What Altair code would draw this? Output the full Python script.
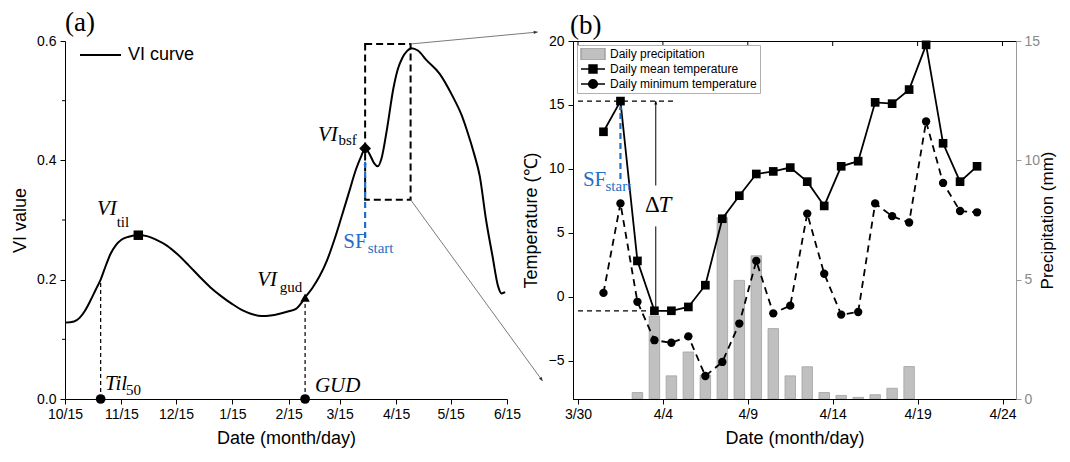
import json
import math
import altair as alt
import pandas as pd

# =====================================================================
# Panel (a): VI curve, x = days after 10/15
# =====================================================================
vi_day = [0, 5, 8, 11, 14, 17, 19.6, 22, 25, 28, 31, 35, 40, 45, 50, 56, 62, 68,
          74, 80, 86, 92, 98, 103, 108, 113, 118, 123, 127, 130, 132, 136, 140, 144,
          148, 152, 156, 160, 163, 165, 167.5, 170, 172, 174, 177, 180.5, 183, 185.5,
          188, 190.5, 194, 199, 206, 213, 218, 221, 225, 228, 231.5, 235, 238, 240, 242]
vi_value = [0.128, 0.130, 0.136, 0.148, 0.165, 0.184, 0.200, 0.220, 0.243, 0.258,
            0.267, 0.272, 0.275, 0.273, 0.267, 0.257, 0.242, 0.224, 0.205, 0.187,
            0.172, 0.159, 0.148, 0.142, 0.139, 0.140, 0.143, 0.147, 0.151, 0.161,
            0.170, 0.186, 0.206, 0.232, 0.266, 0.305, 0.345, 0.385, 0.408, 0.420,
            0.410, 0.395, 0.390, 0.403, 0.452, 0.520, 0.553, 0.572, 0.583, 0.588,
            0.584, 0.567, 0.545, 0.508, 0.476, 0.450, 0.410, 0.374, 0.300, 0.240,
            0.190, 0.177, 0.179]

a_tick_days = [0, 31, 61, 92, 123, 151, 182, 212, 243]
a_tick_labels = ["10/15", "11/15", "12/15", "1/15", "2/15", "3/15", "4/15", "5/15", "6/15"]
a_minor_y = [0.1, 0.3, 0.5]

til_day, til_value = [40.3], [0.2745]      # VI_til (square)
gud_day, gud_value = [132], [0.170]        # VI_gud (triangle)
bsf_day, bsf_value = [165], [0.420]        # VI_bsf (diamond)
date_dot_day = [19.6, 132]                 # Til50, GUD
date_dot_top = [0.200, 0.170]

sfa_day, sfa_from, sfa_to = [165], [0.270], [0.399]
box_day0, box_day1, box_v0, box_v1 = [165], [190], [0.334], [0.595]
conn_day0 = [190, 190]
conn_v0 = [0.595, 0.334]
conn_day1 = [259.9, 262.6]
conn_v1 = [0.615, 0.030]

a_lab_text = ["VI", "VI", "VI", "Til", "GUD"]
a_lab_day = [17.6, 105.7, 139.1, 22.0, 137.4]
a_lab_value = [0.308, 0.189, 0.433, 0.015, 0.011]
a_sub_text = ["til", "gud", "bsf", "50"]
a_sub_day = [28.4, 118.1, 150.3, 33.5]
a_sub_value = [0.2875, 0.180, 0.425, 0.006]
a_sf_text, a_sf_day, a_sf_value = ["SF"], [153.0], [0.2537]
a_sfsub_text, a_sfsub_day, a_sfsub_value = ["start"], [166.4], [0.2454]

# =====================================================================
# Panel (b): daily weather
# =====================================================================
temp_dates = ["3/31", "4/1", "4/2", "4/3", "4/4", "4/5", "4/6", "4/7", "4/8", "4/9",
              "4/10", "4/11", "4/12", "4/13", "4/14", "4/15", "4/16", "4/17", "4/18",
              "4/19", "4/20", "4/21", "4/22"]
mean_temp = [12.9, 15.3, 2.8, -1.1, -1.1, -0.8, 0.9, 6.1, 7.9, 9.6, 9.8, 10.1, 9.0,
             7.1, 10.2, 10.6, 15.2, 15.1, 16.2, 19.7, 12.0, 9.0, 10.2]
min_temp = [0.3, 7.3, -0.4, -3.4, -3.6, -3.1, -6.2, -5.1, -2.1, 2.8, -1.3, -0.7, 6.5,
            1.8, -1.4, -1.2, 7.3, 6.3, 5.8, 13.7, 8.9, 6.7, 6.6]
precip_dates = ["4/2", "4/3", "4/4", "4/5", "4/6", "4/7", "4/8", "4/9", "4/10", "4/11",
                "4/12", "4/13", "4/14", "4/15", "4/16", "4/17", "4/18"]
precip_mm = [0.27, 3.47, 0.97, 1.97, 1.0, 7.6, 4.97, 6.0, 2.95, 0.97, 1.35, 0.27, 0.15,
             0.07, 0.18, 0.45, 1.36]

b_tick_days = [0, 5, 10, 15, 20, 25]
b_tick_labels = ["3/30", "4/4", "4/9", "4/14", "4/19", "4/24"]

series_names = ["Daily precipitation", "Daily mean temperature", "Daily minimum temperature"]

hl_value = [15.3, -1.1]
hl_day0 = [0, 0]
hl_day1 = [5.8, 4.4]
dT_day = [4.58]
dT_seg_top = [15.3, 5.5]
dT_seg_bot = [8.7, -1.1]
sfb_day, sfb_from, sfb_to = [2.5], [9.2], [14.9]
b_sf_day, b_sf_value = [0.29], [8.68]
b_sfsub_day, b_sfsub_value = [1.62], [8.29]
b_delta_day, b_delta_value = [3.94], [6.59]
b_t_day, b_t_value = [4.74], [6.59]

# ---------------------------------------------------------------------
SERIF = "Liberation Serif"
SANS = "Liberation Sans"
BLUE = "#1f6fc5"
GRAY_LINE = "#7a7a7a"

W_A, W_B, H = 442, 443, 358
A_DOM = [0, 243]
A_YDOM = [0, 0.6]


def md_to_day(md):
    m, d = map(int, md.split("/"))
    return (pd.Timestamp(2019, m, d) - pd.Timestamp(2019, 3, 30)).days + 0.5


def lab_expr(vals, labs):
    return f"{json.dumps(labs)}[indexof({json.dumps(vals)}, datum.value)]"


xa = alt.Scale(domain=A_DOM, nice=False, zero=False)
ya = alt.Scale(domain=A_YDOM, nice=False, zero=False)

axis_xa = alt.Axis(values=a_tick_days, labelExpr=lab_expr(a_tick_days, a_tick_labels),
                   title="Date (month/day)", labelPadding=3, titlePadding=8, zindex=1,
                   labelFlush=False)
axis_ya = alt.Axis(values=[0, 0.2, 0.4, 0.6], format=".1f", title="VI value",
                   labelPadding=4, titlePadding=7, zindex=1, labelFlush=False)


def XA(f):
    return alt.X(f, type="quantitative", scale=xa, axis=axis_xa)


def YA(f):
    return alt.Y(f, type="quantitative", scale=ya, axis=axis_ya)


curve_df = pd.DataFrame({"day": vi_day, "vi": vi_value, "name": ["VI curve"] * len(vi_day)})
curve = alt.Chart(curve_df).mark_line(interpolate="monotone", strokeWidth=2).encode(
    x=XA("day"),
    y=YA("vi"),
    color=alt.Color("name:N", scale=alt.Scale(range=["black"]),
                    legend=alt.Legend(title=None, orient="none", legendX=14, legendY=4,
                                      symbolType="stroke", symbolSize=1681,
                                      symbolStrokeWidth=2, clipHeight=20, padding=0,
                                      labelFont=SANS, labelFontSize=18, labelOffset=6,
                                      labelColor="black")),
)

minor_a = alt.Chart(pd.DataFrame({"v": a_minor_y})).mark_rule(color="black", strokeWidth=1).encode(
    y=YA("v"), x=alt.value(0), x2=alt.value(-3))

til_pt = alt.Chart(pd.DataFrame({"d": til_day, "v": til_value})).mark_point(
    shape="square", filled=True, size=90, color="black", opacity=1).encode(x=XA("d"), y=YA("v"))
gud_pt = alt.Chart(pd.DataFrame({"d": gud_day, "v": gud_value})).mark_point(
    shape="triangle-up", filled=True, size=90, color="black", opacity=1).encode(x=XA("d"), y=YA("v"))
bsf_pt = alt.Chart(pd.DataFrame({"d": bsf_day, "v": bsf_value})).mark_point(
    shape="diamond", filled=True, size=140, color="black", opacity=1).encode(x=XA("d"), y=YA("v"))

dots_df = pd.DataFrame({"d": date_dot_day, "top": date_dot_top, "zero": [0] * len(date_dot_day)})
vlines = alt.Chart(dots_df).mark_rule(color="black", strokeWidth=1.2, strokeDash=[4, 3]).encode(
    x=XA("d"), y=YA("zero"), y2="top:Q")
dots = alt.Chart(dots_df).mark_circle(size=95, color="black", opacity=1).encode(
    x=XA("d"), y=YA("zero"))

sfa_df = pd.DataFrame({"d": sfa_day, "a": sfa_from, "b": sfa_to})
sfa_line = alt.Chart(sfa_df).mark_rule(color=BLUE, strokeWidth=2.2, strokeDash=[6, 4]).encode(
    x=XA("d"), y=YA("a"), y2="b:Q")
ARROW_UP = "M0,0L-0.55,1.2L0.55,1.2Z"
ARROW_DOWN = "M0,0L-0.55,-1.2L0.55,-1.2Z"
ARROW_RIGHT = "M0,0L-1.2,-0.5L-1.2,0.5Z"
sfa_head = alt.Chart(sfa_df).mark_point(shape=ARROW_UP, filled=True, size=40, color=BLUE,
                                        opacity=1).encode(x=XA("d"), y=YA("b"))

box_df = pd.DataFrame({"d0": box_day0, "d1": box_day1, "v0": box_v0, "v1": box_v1})
box = alt.Chart(box_df).mark_rect(fill="transparent", stroke="black", strokeWidth=2,
                                  strokeDash=[7, 4]).encode(
    x=XA("d0"), x2="d1:Q", y=YA("v0"), y2="v1:Q")

# connector arrows toward panel (b); angle from their screen direction
conn_angle = []
for d0, v0, d1, v1 in zip(conn_day0, conn_v0, conn_day1, conn_v1):
    px = (d1 - d0) / (A_DOM[1] - A_DOM[0]) * W_A
    py = -(v1 - v0) / (A_YDOM[1] - A_YDOM[0]) * H
    conn_angle.append(math.degrees(math.atan2(py, px)) % 360)
conn_df = pd.DataFrame({"d0": conn_day0, "v0": conn_v0, "d1": conn_day1, "v1": conn_v1,
                        "ang": conn_angle})
conn = alt.Chart(conn_df).mark_rule(color=GRAY_LINE, strokeWidth=1).encode(
    x=XA("d0"), y=YA("v0"), x2="d1:Q", y2="v1:Q")
conn_head = alt.Chart(conn_df).mark_point(shape=ARROW_RIGHT, filled=True, size=45,
                                          color="#333333", opacity=1).encode(
    x=XA("d1"), y=YA("v1"), angle=alt.Angle("ang:Q", scale=None))

a_lab = alt.Chart(pd.DataFrame({"t": a_lab_text, "d": a_lab_day, "v": a_lab_value})).mark_text(
    font=SERIF, fontStyle="italic", fontSize=21, align="left", baseline="alphabetic",
    color="black").encode(x=XA("d"), y=YA("v"), text="t:N")
a_sub = alt.Chart(pd.DataFrame({"t": a_sub_text, "d": a_sub_day, "v": a_sub_value})).mark_text(
    font=SERIF, fontSize=15, align="left", baseline="alphabetic",
    color="black").encode(x=XA("d"), y=YA("v"), text="t:N")
a_sf = alt.Chart(pd.DataFrame({"t": a_sf_text, "d": a_sf_day, "v": a_sf_value})).mark_text(
    font=SERIF, fontSize=21, align="left", baseline="alphabetic", color=BLUE).encode(
    x=XA("d"), y=YA("v"), text="t:N")
a_sfsub = alt.Chart(pd.DataFrame({"t": a_sfsub_text, "d": a_sfsub_day, "v": a_sfsub_value})).mark_text(
    font=SERIF, fontSize=15, align="left", baseline="alphabetic", color=BLUE).encode(
    x=XA("d"), y=YA("v"), text="t:N")

panel_a = alt.layer(
    box, conn, conn_head, vlines, curve, dots, sfa_line, sfa_head,
    til_pt, gud_pt, bsf_pt, minor_a, a_lab, a_sub, a_sf, a_sfsub,
).properties(
    width=W_A, height=H,
    title=alt.TitleParams("(a)", anchor="start", frame="group", font=SERIF, fontSize=27,
                          fontWeight="normal", color="black", offset=-6),
)

# =====================================================================
# Panel (b)
# =====================================================================
xb = alt.Scale(domain=[0, 25.5], nice=False, zero=False)
yT = alt.Scale(domain=[-8, 20], nice=False, zero=False)
yP = alt.Scale(domain=[0, 15], nice=False, zero=False)

axis_xb = alt.Axis(values=b_tick_days, labelExpr=lab_expr(b_tick_days, b_tick_labels),
                   title="Date (month/day)", labelPadding=3, titlePadding=8, zindex=1,
                   labelFlush=False)
axis_yT = alt.Axis(values=[-5, 0, 5, 10, 15, 20], title="Temperature (℃)", orient="left",
                   labelPadding=4, titlePadding=8, zindex=1, labelFlush=False)
axis_yP = alt.Axis(values=[0, 5, 10, 15], title="Precipitation (mm)", orient="right",
                   domainColor="#9a9a9a", tickColor="#9a9a9a", labelColor="#8a8a8a",
                   titleColor="black", titleAngle=270, titleBaseline="top", titleFontSize=17,
                   labelPadding=3, titlePadding=0, zindex=1, labelFlush=False)


def XB(f):
    return alt.X(f, type="quantitative", scale=xb, axis=axis_xb)


def YT(f):
    return alt.Y(f, type="quantitative", scale=yT, axis=axis_yT)


precip_df = pd.DataFrame({"day": [md_to_day(s) for s in precip_dates], "p": precip_mm})
bars = alt.Chart(precip_df).mark_bar(width=10.5, fill="#c0c0c0", stroke="#a2a2a2",
                                     strokeWidth=0.8).encode(
    x=XB("day"),
    y=alt.Y("p:Q", scale=yP, axis=axis_yP),
)

temp_df = pd.DataFrame({"day": [md_to_day(s) for s in temp_dates],
                        "mean": mean_temp, "min": min_temp})
mean_line = alt.Chart(temp_df).mark_line(color="black", strokeWidth=1.8).encode(
    x=XB("day"), y=YT("mean"))
mean_pts = alt.Chart(temp_df).mark_point(shape="square", filled=True, size=75, color="black",
                                         opacity=1).encode(x=XB("day"), y=YT("mean"))
min_line = alt.Chart(temp_df).mark_line(color="black", strokeWidth=1.8,
                                        strokeDash=[7, 5]).encode(x=XB("day"), y=YT("min"))
min_pts = alt.Chart(temp_df).mark_circle(size=70, color="black", opacity=1).encode(
    x=XB("day"), y=YT("min"))

top_ticks = alt.Chart(pd.DataFrame({"d": b_tick_days})).mark_rule(color="black", strokeWidth=1).encode(
    x=XB("d"), y=alt.value(0), y2=alt.value(5))

hl_df = pd.DataFrame({"v": hl_value, "d0": hl_day0, "d1": hl_day1})
hlines = alt.Chart(hl_df).mark_rule(color="black", strokeWidth=1.2, strokeDash=[5, 4]).encode(
    x=XB("d0"), x2="d1:Q", y=YT("v"))

dT_df = pd.DataFrame({"d": dT_day * len(dT_seg_top), "a": dT_seg_top, "b": dT_seg_bot})
dT_line = alt.Chart(dT_df).mark_rule(color="black", strokeWidth=1).encode(
    x=XB("d"), y=YT("a"), y2="b:Q")
dT_up = alt.Chart(pd.DataFrame({"d": dT_day, "v": [max(dT_seg_top)]})).mark_point(
    shape=ARROW_UP, filled=True, size=30, color="black", opacity=1).encode(x=XB("d"), y=YT("v"))
dT_down = alt.Chart(pd.DataFrame({"d": dT_day, "v": [min(dT_seg_bot)]})).mark_point(
    shape=ARROW_DOWN, filled=True, size=30, color="black", opacity=1).encode(x=XB("d"), y=YT("v"))

sfb_df = pd.DataFrame({"d": sfb_day, "a": sfb_from, "b": sfb_to})
sfb_line = alt.Chart(sfb_df).mark_rule(color=BLUE, strokeWidth=2.2, strokeDash=[6, 4]).encode(
    x=XB("d"), y=YT("a"), y2="b:Q")
sfb_head = alt.Chart(sfb_df).mark_point(shape=ARROW_UP, filled=True, size=40, color=BLUE,
                                        opacity=1).encode(x=XB("d"), y=YT("b"))

b_sf = alt.Chart(pd.DataFrame({"t": ["SF"], "d": b_sf_day, "v": b_sf_value})).mark_text(
    font=SERIF, fontSize=21, align="left", baseline="alphabetic", color=BLUE).encode(
    x=XB("d"), y=YT("v"), text="t:N")
b_sfsub = alt.Chart(pd.DataFrame({"t": ["start"], "d": b_sfsub_day, "v": b_sfsub_value})).mark_text(
    font=SERIF, fontSize=15, align="left", baseline="alphabetic", color=BLUE).encode(
    x=XB("d"), y=YT("v"), text="t:N")
b_delta = alt.Chart(pd.DataFrame({"t": ["Δ"], "d": b_delta_day, "v": b_delta_value})).mark_text(
    font=SERIF, fontSize=23, align="left", baseline="alphabetic", color="black").encode(
    x=XB("d"), y=YT("v"), text="t:N")
b_T = alt.Chart(pd.DataFrame({"t": ["T"], "d": b_t_day, "v": b_t_value})).mark_text(
    font=SERIF, fontStyle="italic", fontSize=23, align="left", baseline="alphabetic",
    color="black").encode(x=XB("d"), y=YT("v"), text="t:N")

# legend (library legend with custom symbols)
SYM_RECT = "M-1,-0.5H1V0.5H-1Z"
SYM_SQ = "M-1,0H1M-0.33,-0.33H0.33V0.33H-0.33Z"
SYM_CIR = "M-1,0H1M0.36,0A0.36,0.36,0,1,1,-0.36,0A0.36,0.36,0,1,1,0.36,0Z"
leg = alt.Legend(title=None, orient="top-left", offset=4, padding=3, strokeColor="#b0b0b0",
                 fillColor="white", labelFont=SANS, labelFontSize=12, labelColor="black",
                 symbolSize=576, symbolStrokeWidth=1.5, clipHeight=12, rowPadding=3,
                 labelOffset=4)
leg_df = pd.DataFrame({"series": series_names, "d": [None] * 3, "v": [None] * 3})
legend_layer = alt.Chart(leg_df).mark_point(filled=True, strokeWidth=1.5, opacity=1).encode(
    x=XB("d"), y=YT("v"),
    fill=alt.Fill("series:N", scale=alt.Scale(domain=series_names,
                                              range=["#c0c0c0", "black", "black"]), legend=leg),
    stroke=alt.Stroke("series:N", scale=alt.Scale(domain=series_names,
                                                  range=["#a2a2a2", "black", "black"]), legend=leg),
    shape=alt.Shape("series:N", scale=alt.Scale(domain=series_names,
                                                range=[SYM_RECT, SYM_SQ, SYM_CIR]), legend=leg),
)

temp_layer = alt.layer(
    hlines, top_ticks, min_line, min_pts, mean_line, mean_pts, dT_line, dT_up, dT_down,
    sfb_line, sfb_head, b_sf, b_sfsub, b_delta, b_T, legend_layer,
)

panel_b = alt.layer(bars, temp_layer).resolve_scale(y="independent").properties(
    width=W_B, height=H,
    view=alt.ViewBackground(stroke="black", strokeWidth=1),
    title=alt.TitleParams("(b)", anchor="start", frame="group", font=SERIF, fontSize=27,
                          fontWeight="normal", color="black", offset=-6, dx=-3),
)

chart = alt.hconcat(panel_a, panel_b, spacing=66, bounds="flush").resolve_scale(
    color="independent", fill="independent", stroke="independent", shape="independent",
).configure(
    padding={"left": 3, "top": 0, "right": 0, "bottom": 0},
    background="white",
).configure_view(stroke=None).configure_axis(
    labelFont=SANS, labelFontSize=14, labelColor="black",
    titleFont=SANS, titleFontSize=18, titleFontWeight="normal", titleColor="black",
    domainColor="black", tickColor="black", tickSize=5, grid=False,
)

chart.save("out.html", embed_options={"renderer": "svg", "actions": False})
